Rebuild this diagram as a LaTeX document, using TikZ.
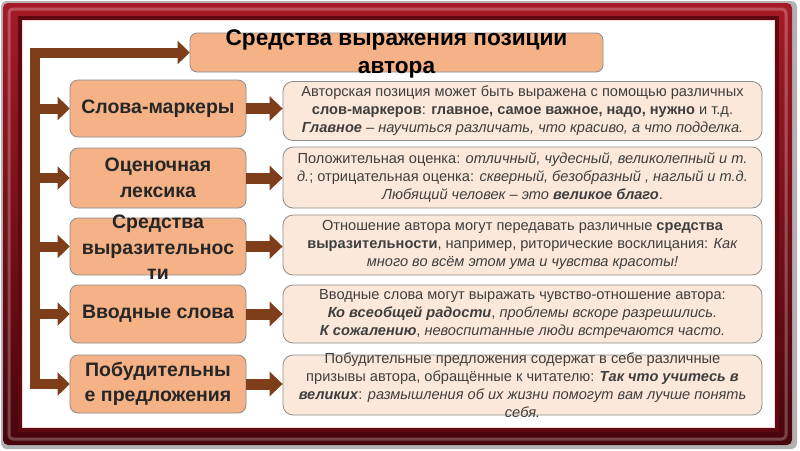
\documentclass[tikz,border=0pt]{standalone}
\usepackage{fontspec}
\setmainfont{Liberation Sans}
\usetikzlibrary{arrows.meta}
\definecolor{frameTop}{RGB}{165,26,38}
\definecolor{frameBot}{RGB}{72,5,12}
\definecolor{frameDark}{RGB}{95,8,16}
\definecolor{arrowC}{RGB}{126,62,26}
\definecolor{lboxC}{RGB}{245,178,134}
\definecolor{rboxC}{RGB}{252,232,218}
\definecolor{borderC}{RGB}{140,140,140}
\definecolor{txtL}{RGB}{38,38,38}
\definecolor{txtR}{RGB}{62,62,62}
\begin{document}
\begin{tikzpicture}[x=1pt,y=-1pt,
  lbox/.style={draw=borderC, line width=0.8pt, fill=lboxC, rounded corners=8pt, minimum width=176pt, inner sep=0pt},
  rbox/.style={draw=borderC, line width=0.8pt, fill=rboxC, rounded corners=10pt, minimum width=479pt, inner sep=0pt},
  tbox/.style={draw=borderC, line width=0.8pt, fill=lboxC, rounded corners=7pt, minimum width=413pt, minimum height=39pt, inner sep=0pt},
  ltext/.style={align=center, text=txtL, font=\bfseries\fontsize{19.5}{25.5}\selectfont, inner sep=0pt},
  rtext/.style={align=center, text=txtR, font=\fontsize{14.6}{18}\selectfont, inner sep=0pt},
  ttext/.style={align=center, text=black, font=\bfseries\fontsize{22.6}{28}\selectfont, inner sep=0pt},
  arrL/.style={draw=arrowC, line width=10pt, line join=miter, -{Triangle[length=12pt,width=23pt]}},
  arrM/.style={draw=arrowC, line width=11pt, -{Triangle[length=13pt,width=24pt]}}
]
\useasboundingbox (0,0) rectangle (800,450);
% frame
\fill[black!30, rounded corners=6pt] (1,1) rectangle (797,449);
\shade[top color=frameTop, bottom color=frameBot, rounded corners=5pt] (3,3) rectangle (792,445);
\draw[white, opacity=0.25, line width=3pt, rounded corners=4pt] (9,9) rectangle (786,439);
\fill[frameDark] (18,16) rectangle (779,432);
\fill[white] (22,20) rectangle (775,428);
\draw[red!15, line width=1pt] (22.5,20.5) rectangle (774.5,427.5);

% title
\node[tbox] (title) at (396.5,52.5) {};
\node[ttext] (titletxt) at (396.5,54) {Средства выражения позиции\\автора};

% left boxes
\node[lbox, minimum height=57pt] (l1) at (158,108.5) {};
\node[lbox, minimum height=60pt] (l2) at (158,178) {};
\node[lbox, minimum height=57pt] (l3) at (158,246.5) {};
\node[lbox, minimum height=58pt] (l4) at (158,314) {};
\node[lbox, minimum height=58pt] (l5) at (158,384) {};
\node[ltext] (lt1) at (l1.center) {Слова-маркеры};
\node[ltext] (lt2) at (l2.center) {Оценочная\\лексика};
\node[ltext] (lt3) at (158,247.5) {Средства\\выразительнос\\ти};
\node[ltext] (lt4) at (l4.center) {Вводные слова};
\node[ltext] (lt5) at (l5.center) {Побудительны\\е предложения};

% right boxes
\node[rbox, minimum height=59pt] (r1) at (522.5,111) {};
\node[rbox, minimum height=61pt] (r2) at (522.5,177.5) {};
\node[rbox, minimum height=60pt] (r3) at (522.5,245) {};
\node[rbox, minimum height=58pt] (r4) at (522.5,314) {};
\node[rbox, minimum height=60pt] (r5) at (522.5,385) {};
\node[rtext] (rt1) at (r1.center) {Авторская позиция может быть выражена с помощью различных\\
\textbf{слов-маркеров}: \textbf{главное, самое важное, надо, нужно} и т.д.\\
\textbf{\textit{Главное}} – \textit{научиться различать, что  красиво, а что подделка.}};
\node[rtext] (rt2) at (r2.center) {Положительная оценка: \textit{отличный,  чудесный, великолепный и т.}\\
\textit{д.}; отрицательная оценка: \textit{скверный, безобразный , наглый  и т.д.}\\
\textit{Любящий человек – это} \textbf{\textit{великое благо}}.};
\node[rtext] (rt3) at (r3.center) {Отношение автора могут передавать различные \textbf{средства}\\
\textbf{выразительности}, например, риторические восклицания: \textit{Как}\\
\textit{много во всём этом ума и чувства красоты!}};
\node[rtext] (rt4) at (r4.center) {Вводные слова могут выражать чувство-отношение автора:\\
\textbf{\textit{Ко всеобщей радости}}, \textit{проблемы вскоре разрешились.}\\
\textbf{\textit{К сожалению}}, \textit{невоспитанные люди встречаются часто.}};
\node[rtext] (rt5) at (522.5,385.5) {Побудительные предложения содержат в себе различные\\
призывы автора, обращённые к читателю: \textbf{\textit{Так что учитесь в}}\\
\textbf{\textit{великих}}: \textit{размышления об их жизни помогут вам лучше понять}\\
\textit{себя.}};

% connectors
\coordinate (vtop) at (35,52.5);
\coordinate (vbot) at (35,389);
\draw[arrL] (vbot) -- (vtop) -- (title.west);
\foreach \i in {1,...,5}{
  \draw[arrL] (l\i.west -| vtop) -- (l\i.west);
  \draw[arrM] (l\i.east) -- (l\i.east -| r\i.west);
}
\end{tikzpicture}
\end{document}
